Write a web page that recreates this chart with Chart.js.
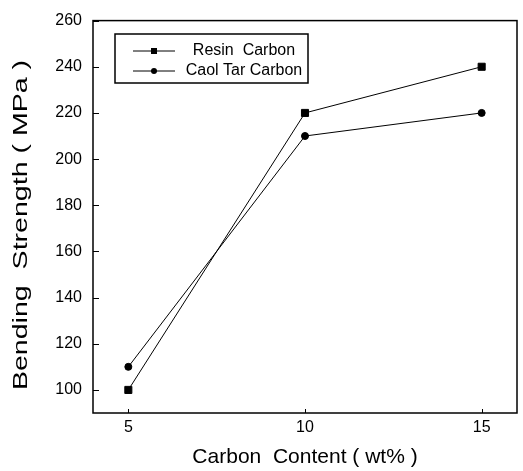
<!DOCTYPE html>
<html>
<head>
<meta charset="utf-8">
<script src="https://cdn.jsdelivr.net/npm/chart.js@4/dist/chart.umd.min.js"></script>
<style>
  html, body { margin: 0; padding: 0; background: #fff; }
  #wrap { width: 523px; height: 471px; }
</style>
</head>
<body>
<div id="wrap"><canvas id="bendChart" width="523" height="471"></canvas></div>
<script>
// data
const carbonContent = [5, 10, 15];
const resinCarbon = [100, 220, 240];
const coalTarCarbon = [110, 210, 220];
const seriesNames = ["Resin  Carbon", "Caol Tar Carbon"];
const xTicks = [5, 10, 15];
const yTicks = [100, 120, 140, 160, 180, 200, 220, 240, 260];
const yTitle = "Bending  Strength ( MPa )";

const FONT = "'Liberation Sans', Arial, Helvetica, sans-serif";

const toPoints = (ys) => carbonContent.map((x, i) => ({ x: x, y: ys[i] }));

// box around the plot + small inward ticks
const frameTicks = {
  id: "frameTicks",
  afterDraw(chart) {
    const { ctx, chartArea: a, scales } = chart;
    ctx.save();
    ctx.strokeStyle = "#000";
    ctx.lineWidth = 1.5;
    ctx.strokeRect(a.left, a.top, a.right - a.left, a.bottom - a.top);
    ctx.lineWidth = 1;
    ctx.beginPath();
    xTicks.forEach((v) => {
      const px = Math.round(scales.x.getPixelForValue(v)) + 0.5;
      ctx.moveTo(px, a.bottom);
      ctx.lineTo(px, a.bottom - 4);
    });
    yTicks.forEach((v) => {
      const py = Math.round(scales.y.getPixelForValue(v)) + 0.5;
      ctx.moveTo(a.left, py);
      ctx.lineTo(a.left + 6, py);
    });
    ctx.stroke();
    ctx.restore();
  },
};

// y title: the original is stretched along its length
const stretchedYTitle = {
  id: "stretchedYTitle",
  afterDraw(chart) {
    const ctx = chart.ctx;
    ctx.save();
    ctx.translate(21, 225);
    ctx.rotate(-Math.PI / 2);
    ctx.scale(1.36, 1);
    ctx.font = "21px " + FONT;
    ctx.fillStyle = "#000";
    ctx.textAlign = "center";
    ctx.textBaseline = "middle";
    ctx.fillText(yTitle, 0, 0);
    ctx.restore();
  },
};

// legend in a box, line + marker sample
const boxLegend = {
  id: "boxLegend",
  afterDraw(chart) {
    const ctx = chart.ctx;
    const bx = 115, by = 34, bw = 193, bh = 49;
    ctx.save();
    ctx.strokeStyle = "#000";
    ctx.lineWidth = 1.5;
    ctx.strokeRect(bx, by, bw, bh);
    ctx.font = "16px " + FONT;
    ctx.fillStyle = "#000";
    ctx.textBaseline = "middle";
    ctx.textAlign = "center";
    chart.data.datasets.forEach((ds, i) => {
      const yy = by + 17 + i * 20;
      ctx.lineWidth = 1;
      ctx.beginPath();
      ctx.moveTo(bx + 18, yy);
      ctx.lineTo(bx + 60, yy);
      ctx.stroke();
      const mx = bx + 39;
      if (ds.pointStyle === "rect") {
        ctx.fillRect(mx - 3, yy - 3, 6, 6);
      } else {
        ctx.beginPath();
        ctx.arc(mx, yy, 3, 0, Math.PI * 2);
        ctx.fill();
      }
      ctx.fillText(ds.label, bx + 129, yy);
    });
    ctx.restore();
  },
};

new Chart(document.getElementById("bendChart"), {
  type: "line",
  data: {
    datasets: [
      {
        label: seriesNames[0],
        data: toPoints(resinCarbon),
        borderColor: "#000",
        backgroundColor: "#000",
        borderWidth: 1,
        pointStyle: "rect",
        pointRadius: 5,
        tension: 0,
      },
      {
        label: seriesNames[1],
        data: toPoints(coalTarCarbon),
        borderColor: "#000",
        backgroundColor: "#000",
        borderWidth: 1,
        pointStyle: "circle",
        pointRadius: 3.5,
        tension: 0,
      },
    ],
  },
  options: {
    responsive: false,
    animation: false,
    devicePixelRatio: 1,
    layout: { padding: { top: 12, right: 3, left: 0, bottom: 0 } },
    plugins: { legend: { display: false }, tooltip: { enabled: false } },
    scales: {
      x: {
        type: "linear",
        min: 4,
        max: 16,
        afterBuildTicks: (s) => { s.ticks = xTicks.map((v) => ({ value: v })); },
        afterFit: (s) => { s.height = 58; },
        grid: { display: false, drawTicks: false },
        border: { display: false },
        ticks: { color: "#000", padding: 5, font: { family: FONT, size: 16 } },
        title: {
          display: true,
          text: "Carbon  Content ( wt% )",
          color: "#000",
          font: { family: FONT, size: 21 },
          padding: { top: 0, bottom: 1 },
        },
      },
      y: {
        min: 90,
        max: 260,
        afterBuildTicks: (s) => { s.ticks = yTicks.map((v) => ({ value: v })); },
        afterFit: (s) => { s.width = 93; },
        grid: { display: false, drawTicks: false },
        border: { display: false },
        ticks: { color: "#000", padding: 11, font: { family: FONT, size: 16 } },
        title: { display: false },
      },
    },
  },
  plugins: [frameTicks, stretchedYTitle, boxLegend],
});
</script>
</body>
</html>
